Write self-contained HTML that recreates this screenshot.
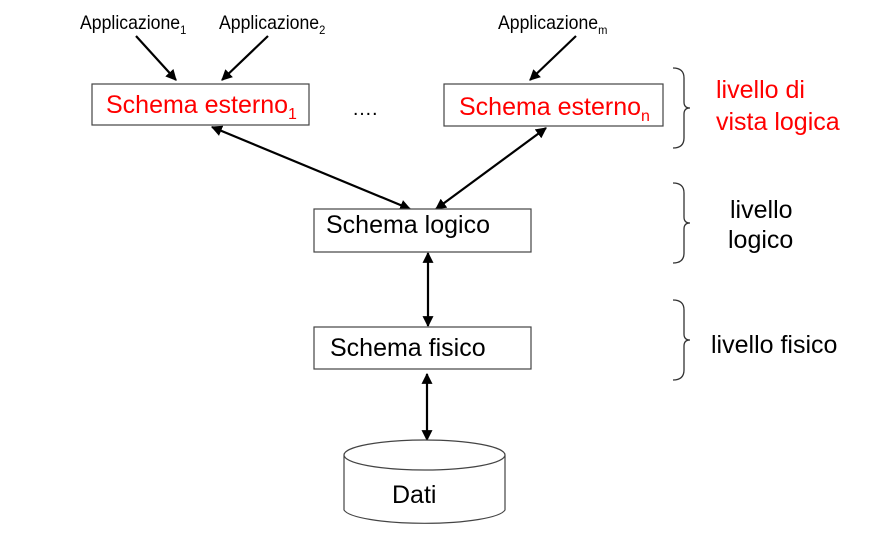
<!DOCTYPE html>
<html><head><meta charset="utf-8"><style>
html,body{margin:0;padding:0;background:#fff;}
svg{display:block;}
text{font-family:"Liberation Sans",Arial,sans-serif;}
</style></head><body>
<svg width="881" height="533" viewBox="0 0 881 533" xmlns="http://www.w3.org/2000/svg">
<defs>
<marker id="a" viewBox="0 0 10 10" refX="9" refY="5" markerWidth="5" markerHeight="5" orient="auto-start-reverse">
<path d="M0,0 L10,5 L0,10 z" fill="#000"/></marker>
</defs>
<g font-size="19" fill="#000">
<text x="80" y="29" transform="translate(80 0) scale(0.93 1) translate(-80 0)">Applicazione<tspan font-size="12" dy="5">1</tspan></text>
<text x="219" y="29" transform="translate(219 0) scale(0.93 1) translate(-219 0)">Applicazione<tspan font-size="12" dy="5">2</tspan></text>
<text x="498" y="29" transform="translate(498 0) scale(0.93 1) translate(-498 0)">Applicazione<tspan font-size="12" dy="5">m</tspan></text>
</g>
<g stroke="#000" stroke-width="2.2" fill="none">
<line x1="136" y1="36" x2="176" y2="80" marker-end="url(#a)"/>
<line x1="268" y1="36" x2="222" y2="80" marker-end="url(#a)"/>
<line x1="576" y1="36" x2="530" y2="80" marker-end="url(#a)"/>
<line x1="212" y1="127" x2="410" y2="209" marker-start="url(#a)" marker-end="url(#a)"/>
<line x1="546" y1="128" x2="436" y2="209" marker-start="url(#a)" marker-end="url(#a)"/>
<line x1="428" y1="253" x2="428" y2="326" marker-start="url(#a)" marker-end="url(#a)"/>
<line x1="427" y1="374" x2="427" y2="440" marker-start="url(#a)" marker-end="url(#a)"/>
</g>
<g stroke="#444" stroke-width="1.2" fill="#fff">
<rect x="92" y="84" width="217" height="41"/>
<rect x="444" y="84" width="219" height="42"/>
<rect x="314" y="209" width="217" height="43"/>
<rect x="314" y="327" width="217" height="42"/>
<path d="M344,455 L344,510 A81,15 0 0 0 505,510 L505,455"/>
<ellipse cx="424.5" cy="455" rx="80.5" ry="15"/>
</g>
<g font-size="25" fill="#f00">
<text x="106" y="113">Schema esterno<tspan font-size="16" dy="6">1</tspan></text>
<text x="459" y="115">Schema esterno<tspan font-size="16" dy="6">n</tspan></text>
<text x="716" y="98">livello di</text>
<text x="716" y="130">vista  logica</text>
</g>
<text x="352" y="115" font-size="20" fill="#000">….</text>
<g font-size="25" fill="#000">
<text x="326" y="233">Schema logico</text>
<text x="330" y="356">Schema fisico</text>
<text x="392" y="503">Dati</text>
<text x="730" y="218">livello</text>
<text x="728" y="248">logico</text>
<text x="711" y="353">livello fisico</text>
</g>
<g stroke="#333" stroke-width="1.3" fill="none">
<path d="M673,68 Q684,68 684,78 L684,102 Q684,108 690,108 Q684,108 684,114 L684,138 Q684,148 673,148"/>
<path d="M673,183 Q684,183 684,193 L684,217 Q684,223 690,223 Q684,223 684,229 L684,253 Q684,263 673,263"/>
<path d="M673,300 Q684,300 684,310 L684,334 Q684,340 690,340 Q684,340 684,346 L684,370 Q684,380 673,380"/>
</g>
</svg>
</body></html>
